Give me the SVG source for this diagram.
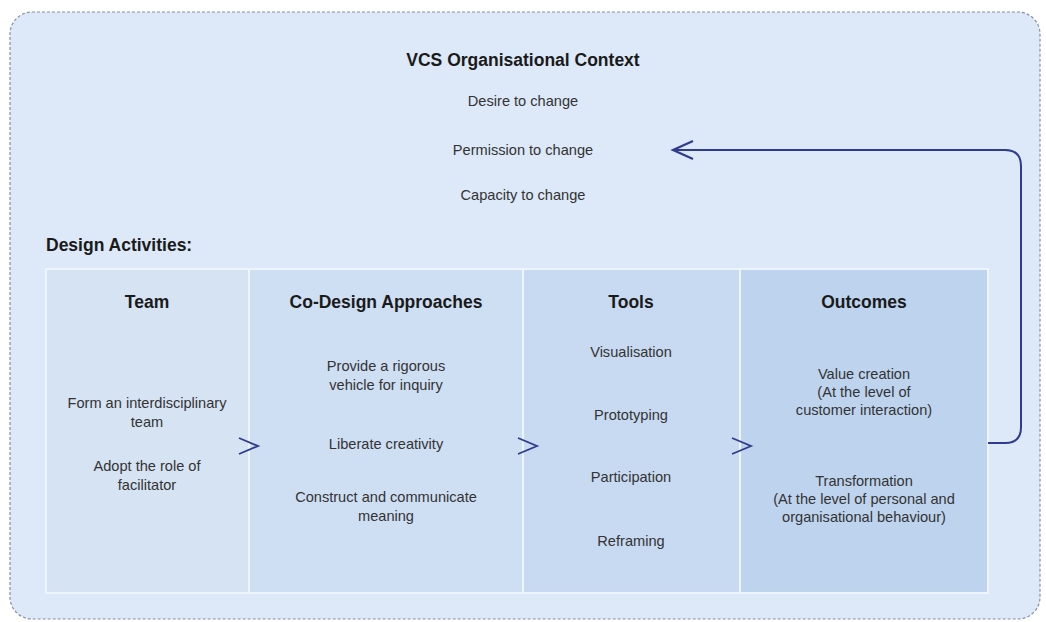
<svg xmlns="http://www.w3.org/2000/svg" width="1046" height="622" viewBox="0 0 1046 622">
<style>
.t{font-family:"Liberation Sans",Arial,sans-serif;font-size:14.6px;fill:#333;text-anchor:middle}
.h{font-family:"Liberation Sans",Arial,sans-serif;font-size:17.5px;font-weight:bold;fill:#1a1a1a;text-anchor:middle}
.col{stroke:#eef4fb;stroke-width:2}
.chev{fill:none;stroke:#2f3b8f;stroke-width:1.8}
</style>
<defs>
<marker id="open" markerWidth="24" markerHeight="24" refX="21" refY="12" orient="auto" markerUnits="userSpaceOnUse">
<path d="M1,3 L21,12 L1,21" fill="none" stroke="#2f3b8f" stroke-width="2.2"/>
</marker>
</defs>
<rect width="1046" height="622" fill="#ffffff"/>
<g id="context">
<rect x="10" y="12" width="1030" height="607" rx="22" fill="#dde9f8" stroke="#8a8fa0" stroke-width="1.2" stroke-dasharray="3,2"/>
<text class="h" x="523" y="66">VCS Organisational Context</text>
<text class="t" x="523" y="106">Desire to change</text>
<text class="t" x="523" y="155">Permission to change</text>
<text class="t" x="523" y="200">Capacity to change</text>
<text class="h" x="46" y="251" style="text-anchor:start">Design Activities:</text>
</g>
<g id="team">
<rect class="col" x="46" y="269" width="203" height="324" fill="#d6e3f3"/>
<text class="h" x="147" y="308">Team</text>
<text class="t" x="147" y="408">Form an interdisciplinary</text>
<text class="t" x="147" y="427">team</text>
<text class="t" x="147" y="471">Adopt the role of</text>
<text class="t" x="147" y="490">facilitator</text>
</g>
<g id="codesign">
<rect class="col" x="249" y="269" width="274" height="324" fill="#cfdff3"/>
<text class="h" x="386" y="308">Co-Design Approaches</text>
<text class="t" x="386" y="371">Provide a rigorous</text>
<text class="t" x="386" y="390">vehicle for inquiry</text>
<text class="t" x="386" y="449">Liberate creativity</text>
<text class="t" x="386" y="502">Construct and communicate</text>
<text class="t" x="386" y="521">meaning</text>
</g>
<g id="tools">
<rect class="col" x="523" y="269" width="217" height="324" fill="#c8daf1"/>
<text class="h" x="631" y="308">Tools</text>
<text class="t" x="631" y="357">Visualisation</text>
<text class="t" x="631" y="420">Prototyping</text>
<text class="t" x="631" y="482">Participation</text>
<text class="t" x="631" y="546">Reframing</text>
</g>
<g id="outcomes">
<rect class="col" x="740" y="269" width="248" height="324" fill="#bed3ee"/>
<text class="h" x="864" y="308">Outcomes</text>
<text class="t" x="864" y="379">Value creation</text>
<text class="t" x="864" y="397">(At the level of</text>
<text class="t" x="864" y="415">customer interaction)</text>
<text class="t" x="864" y="486">Transformation</text>
<text class="t" x="864" y="504">(At the level of personal and</text>
<text class="t" x="864" y="522">organisational behaviour)</text>
</g>
<g id="connectors">
<polyline class="chev" points="239,438 258,446 239,454"/>
<polyline class="chev" points="518,438 537,446 518,454"/>
<polyline class="chev" points="732,438 751,446 732,454"/>
<path d="M988,443 H1005 Q1021,443 1021,427 V166 Q1021,150 1005,150 H673" fill="none" stroke="#2f3b8f" stroke-width="2" marker-end="url(#open)"/>
</g>
</svg>
